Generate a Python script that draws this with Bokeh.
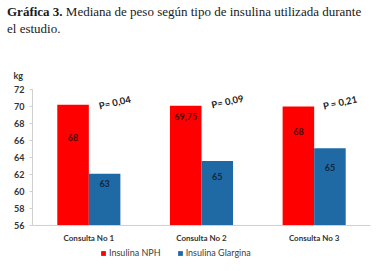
from bokeh.plotting import figure
from bokeh.layouts import column
from bokeh.models import (FactorRange, ColumnDataSource, Legend, LegendItem, FixedTicker,
                          Div, Title)
from bokeh.transform import dodge
from bokeh.core.properties import value
from bokeh.embed import file_html
from bokeh.resources import INLINE

categories = ["Consulta No 1", "Consulta No 2", "Consulta No 3"]
series_names = ["Insulina NPH", "Insulina Glargina"]
nph_values = [70.2, 70.1, 70.0]
glargina_values = [62.1, 63.6, 65.1]
nph_labels = ["68", "69,75", "68"]
glargina_labels = ["63", "65", "65"]
nph_label_y = [66.4, 68.8, 67.1]
glargina_label_y = [61.0, 61.8, 62.8]
p_labels = ["P= 0,04", "P= 0,09", "P = 0,21"]
p_label_y = [70.46, 70.58, 70.46]
y_ticks = [56, 58, 60, 62, 64, 66, 68, 70, 72]
title_bold = "Gráfica 3."
title_line1 = "Mediana de peso según tipo de insulina utilizada durante"
title_line2 = "el estudio."
y_unit = "kg"

RED = "#FF0000"
BLUE = "#1F6AA5"
FONT = "Lato"
SERIF = "Liberation Serif"
W = 391
HH = 44
LH = 26

header = Div(text=f"<b>{title_bold}</b> {title_line1}<br>{title_line2}",
             width=W, height=HH, margin=(0, 0, 0, 0),
             styles={"font-family": SERIF, "font-size": "13px", "line-height": "16.5px",
                     "color": "#1a1a1a", "white-space": "nowrap",
                     "padding": "4px 0 0 7px", "box-sizing": "border-box"})

src = ColumnDataSource(dict(cat=categories, nph=nph_values, gla=glargina_values,
                            nl=nph_labels, gl=glargina_labels,
                            nly=nph_label_y, gly=glargina_label_y,
                            pl=p_labels, ply=p_label_y))

p = figure(x_range=FactorRange(*categories), y_range=(56, 72),
           width=W, height=271 - HH - LH, output_backend="svg", toolbar_location=None,
           min_border_left=32, min_border_right=21, min_border_top=45, min_border_bottom=16,
           margin=(0, 0, 0, 0))
p.outline_line_color = None
p.xgrid.visible = False
p.ygrid.visible = False

p.vbar(x=dodge("cat", -0.14, range=p.x_range), top="nph", bottom=56, width=0.28,
       source=src, fill_color=RED, line_color=None)
p.vbar(x=dodge("cat", 0.14, range=p.x_range), top="gla", bottom=56, width=0.28,
       source=src, fill_color=BLUE, line_color=None)

p.text(x=dodge("cat", -0.14, range=p.x_range), y="nly", text="nl", source=src,
       text_align="center", text_baseline="middle", text_font=value(FONT),
       text_font_size="9px", text_font_style="bold", text_color="#4a0a0a")
p.text(x=dodge("cat", 0.14, range=p.x_range), y="gly", text="gl", source=src,
       text_align="center", text_baseline="middle", text_font=value(FONT),
       text_font_size="9px", text_font_style="bold", text_color="#0f2740")
p.text(x=dodge("cat", 0.23, range=p.x_range), y="ply", text="pl", source=src,
       text_align="center", text_baseline="middle", text_font=value(FONT),
       text_font_size="9.5px", text_font_style="bold", text_color="#222222", angle=0.22)

p.add_layout(Title(text=y_unit, align="left", offset=-19, text_font=FONT,
                   text_font_size="9px", text_font_style="bold", text_color="#333333",
                   standoff=18), "above")

p.yaxis.ticker = FixedTicker(ticks=y_ticks)
p.yaxis.axis_line_color = "#d0d0d0"
p.yaxis.major_tick_line_color = "#d0d0d0"
p.yaxis.major_tick_out = 3
p.yaxis.major_tick_in = 0
p.yaxis.minor_tick_line_color = None
p.yaxis.major_label_text_font = FONT
p.yaxis.major_label_text_font_size = "9px"
p.yaxis.major_label_text_font_style = "bold"
p.yaxis.major_label_text_color = "#333333"
p.yaxis.major_label_standoff = 5

p.xaxis.axis_line_color = "#d0d0d0"
p.xaxis.major_tick_line_color = None
p.xaxis.major_tick_out = 0
p.xaxis.major_tick_in = 0
p.xaxis.minor_tick_line_color = None
p.xaxis.major_label_text_font = FONT
p.xaxis.major_label_text_font_size = "8px"
p.xaxis.major_label_text_font_style = "bold"
p.xaxis.major_label_text_color = "#333333"
p.xaxis.major_label_standoff = 7

# ---- legend row (frame aligned with chart frame by the column) ----
lf = figure(width=W, height=LH, x_range=(0, 1), y_range=(0, 1),
            output_backend="svg", toolbar_location=None,
            x_axis_type=None, y_axis_type=None,
            min_border_left=32, min_border_right=21, min_border_top=0, min_border_bottom=0,
            margin=(0, 0, 0, 0))
lf.outline_line_color = None
lf.xgrid.visible = False
lf.ygrid.visible = False
g1 = lf.vbar(x=[0.5], top=[1], width=0.1, fill_color=RED, line_color=None, visible=False)
g2 = lf.vbar(x=[0.5], top=[1], width=0.1, fill_color=BLUE, line_color=None, visible=False)
legend = Legend(items=[LegendItem(label=series_names[0], renderers=[g1]),
                       LegendItem(label=series_names[1], renderers=[g2])],
                orientation="horizontal", location=(68, 13),
                glyph_width=6, glyph_height=6, label_text_font=FONT,
                label_text_font_size="9px", label_text_color="#404040",
                label_standoff=3, spacing=16, padding=0, margin=0,
                border_line_color=None, background_fill_alpha=0,
                inactive_fill_alpha=0, label_height=10)
lf.add_layout(legend, "center")

layout = column(header, p, lf, spacing=0, margin=(0, 0, 0, 0))
open("out.html", "w").write(file_html(layout, INLINE))
